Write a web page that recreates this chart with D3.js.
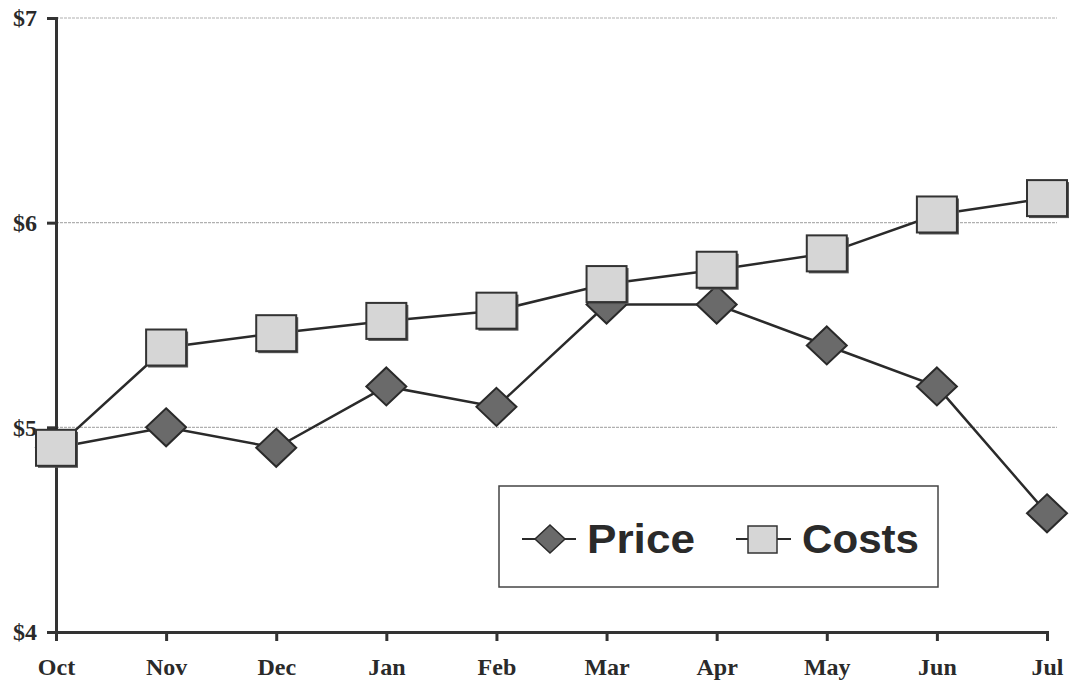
<!DOCTYPE html>
<html>
<head>
<meta charset="utf-8">
<script src="https://cdn.jsdelivr.net/npm/d3@7"></script>
<style>
  html, body { margin: 0; padding: 0; background: #fff; }
  svg { display: block; }
</style>
</head>
<body>
<svg id="chart" width="1070" height="687"></svg>
<script>
// Monthly price versus costs
const months = ["Oct", "Nov", "Dec", "Jan", "Feb", "Mar", "Apr", "May", "Jun", "Jul"];
const price = [4.9, 5.0, 4.9, 5.2, 5.1, 5.6, 5.6, 5.4, 5.2, 4.58];
const costs = [4.9, 5.39, 5.46, 5.52, 5.57, 5.7, 5.77, 5.85, 6.04, 6.12];
const yTicks = [4, 5, 6, 7];
const seriesNames = ["Price", "Costs"];

(function () {
  const svg = d3.select("#chart");
  const plot = { left: 56, right: 1047, top: 18, bottom: 632 };

  const x = d3.scalePoint().domain(months).range([plot.left, plot.right]).padding(0);
  const y = d3.scaleLinear().domain([4, 7]).range([plot.bottom, plot.top]);

  // Grid lines
  svg.append("g")
    .selectAll("line")
    .data(yTicks.filter(d => d > 4))
    .join("line")
    .attr("x1", plot.left).attr("x2", plot.right + 10)
    .attr("y1", d => y(d)).attr("y2", d => y(d))
    .attr("stroke", "#b0b0b0")
    .attr("stroke-width", 1.2)
    .attr("stroke-dasharray", "3,1");

  const tickFont = sel => sel
    .attr("font-family", "'Liberation Serif', 'Times New Roman', serif")
    .attr("font-weight", "bold")
    .attr("font-size", 24)
    .attr("fill", "#2a2a2a");

  // Y axis
  const yAxis = d3.axisLeft(y).tickValues(yTicks).tickFormat(d => "$" + d).tickSize(9).tickPadding(10);
  const gy = svg.append("g").attr("transform", `translate(${plot.left},0)`).call(yAxis);
  gy.select(".domain").attr("stroke", "#333").attr("stroke-width", 3);
  gy.selectAll(".tick line").attr("stroke", "#333").attr("stroke-width", 3);
  gy.selectAll(".tick text").call(tickFont);

  // X axis
  const xAxis = d3.axisBottom(x).tickSize(9).tickPadding(17);
  const gx = svg.append("g").attr("transform", `translate(0,${plot.bottom})`).call(xAxis);
  gx.select(".domain").attr("stroke", "#333").attr("stroke-width", 3);
  gx.selectAll(".tick line").attr("stroke", "#333").attr("stroke-width", 3);
  gx.selectAll(".tick text").call(tickFont);

  const line = d3.line().x((d, i) => x(months[i])).y(d => y(d));

  function diamond(sel, cx, cy) {
    sel.append("path")
      .attr("d", `M${cx},${cy - 19} L${cx + 20},${cy} L${cx},${cy + 19} L${cx - 20},${cy} Z`)
      .attr("fill", "#6a6a6a")
      .attr("stroke", "#2a2a2a")
      .attr("stroke-width", 2);
  }
  function square(sel, cx, cy) {
    sel.append("rect")
      .attr("x", cx - 18).attr("y", cy - 16)
      .attr("width", 40).attr("height", 36)
      .attr("fill", "#555");
    sel.append("rect")
      .attr("x", cx - 20).attr("y", cy - 18)
      .attr("width", 40).attr("height", 36)
      .attr("fill", "#d6d6d6")
      .attr("stroke", "#333")
      .attr("stroke-width", 2);
  }

  // Price series
  svg.append("path").datum(price)
    .attr("d", line).attr("fill", "none")
    .attr("stroke", "#2a2a2a").attr("stroke-width", 2.5);
  const gp = svg.append("g");
  price.forEach((v, i) => diamond(gp, x(months[i]), y(v)));

  // Costs series
  svg.append("path").datum(costs)
    .attr("d", line).attr("fill", "none")
    .attr("stroke", "#2a2a2a").attr("stroke-width", 2.5);
  const gc = svg.append("g");
  costs.forEach((v, i) => square(gc, x(months[i]), y(v)));

  // Legend
  const lg = svg.append("g");
  lg.append("rect")
    .attr("x", 499).attr("y", 486).attr("width", 439).attr("height", 101)
    .attr("fill", "#fff").attr("stroke", "#444").attr("stroke-width", 1.5);

  const legendFont = sel => sel
    .attr("font-family", "'Liberation Sans', Arial, sans-serif")
    .attr("font-weight", "bold").attr("font-size", 40).attr("fill", "#2a2a2a")
    .attr("lengthAdjust", "spacingAndGlyphs");

  lg.append("line").attr("x1", 522).attr("x2", 576).attr("y1", 539).attr("y2", 539)
    .attr("stroke", "#2a2a2a").attr("stroke-width", 2);
  lg.append("path").attr("d", "M550,525 L565,539 L550,553 L535,539 Z")
    .attr("fill", "#6a6a6a").attr("stroke", "#2a2a2a").attr("stroke-width", 1.5);
  lg.append("text").attr("x", 587).attr("y", 553).attr("textLength", 108)
    .text(seriesNames[0]).call(legendFont);

  lg.append("line").attr("x1", 736).attr("x2", 791).attr("y1", 539).attr("y2", 539)
    .attr("stroke", "#2a2a2a").attr("stroke-width", 2);
  lg.append("rect").attr("x", 748).attr("y", 526).attr("width", 29).attr("height", 27)
    .attr("fill", "#d6d6d6").attr("stroke", "#333").attr("stroke-width", 1.5);
  lg.append("text").attr("x", 802).attr("y", 553).attr("textLength", 117)
    .text(seriesNames[1]).call(legendFont);
})();
</script>
</body>
</html>
